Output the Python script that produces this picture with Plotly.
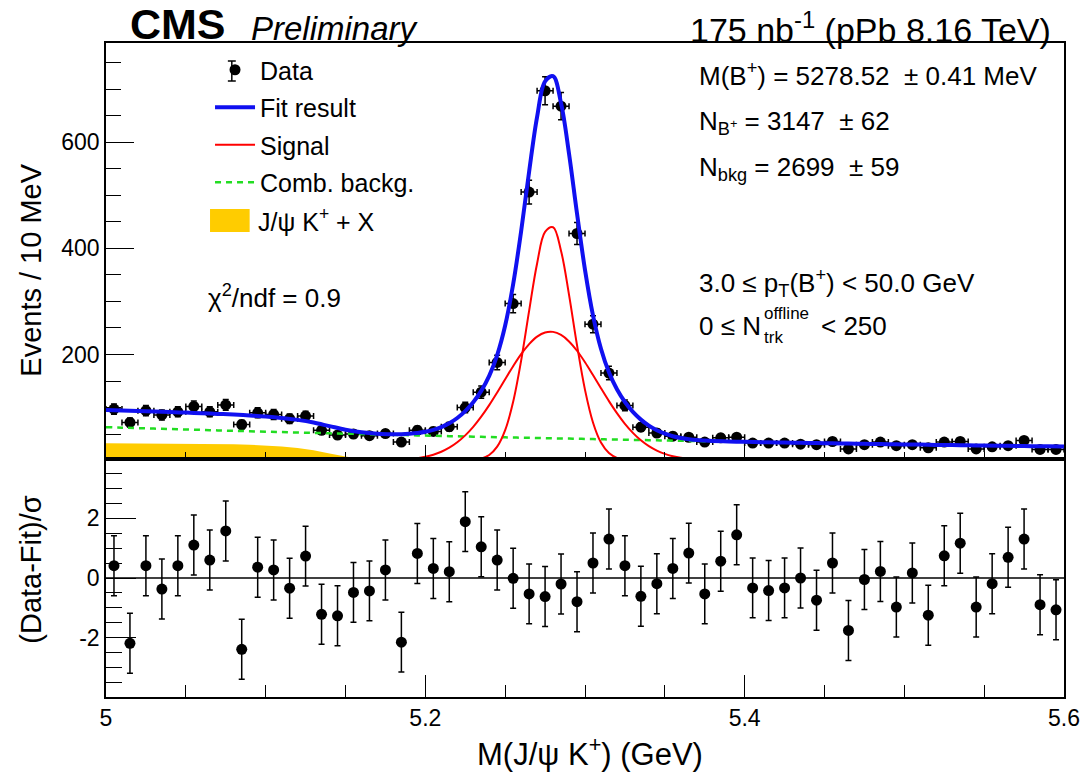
import numpy as np
import plotly.graph_objects as go

# ---------------- data ----------------
bin_centers = [5.005, 5.015, 5.025, 5.035, 5.045, 5.055, 5.065, 5.075, 5.085, 5.095,
               5.105, 5.115, 5.125, 5.135, 5.145, 5.155, 5.165, 5.175, 5.185, 5.195,
               5.205, 5.215, 5.225, 5.235, 5.245, 5.255, 5.265, 5.275, 5.285, 5.295,
               5.305, 5.315, 5.325, 5.335, 5.345, 5.355, 5.365, 5.375, 5.385, 5.395,
               5.405, 5.415, 5.425, 5.435, 5.445, 5.455, 5.465, 5.475, 5.485, 5.495,
               5.505, 5.515, 5.525, 5.535, 5.545, 5.555, 5.565, 5.575, 5.585, 5.595]

counts = [97, 72, 94, 86, 92, 102, 92, 105, 68, 90,
          87, 79, 84, 57, 48, 50, 47, 51, 35, 57,
          55, 64, 100, 129, 185, 296, 506, 697, 668, 428,
          257, 165, 104, 63, 52, 46, 44, 35, 43, 44,
          33, 33, 33, 31, 30, 36, 22, 30, 35, 28,
          30, 24, 35, 36, 22, 26, 28, 38, 21, 21]

pulls = [0.41, -2.18, 0.41, -0.37, 0.41, 1.10, 0.60, 1.57, -2.38, 0.36,
         0.27, -0.34, 0.73, -1.21, -1.26, -0.48, -0.43, 0.27, -2.14, 0.82,
         0.32, 0.21, 1.88, 1.04, 0.60, -0.01, -0.53, -0.62, -0.20, -0.79,
         0.50, 1.30, 0.41, -0.61, -0.19, 0.32, 0.83, -0.53, 0.56, 1.44,
         -0.33, -0.42, -0.33, 0.00, -0.74, 0.50, -1.75, -0.05, 0.22, -0.97,
         0.17, -1.24, 0.74, 1.16, -0.97, -0.19, 0.69, 1.30, -0.89, -1.06]

# curve sampling points (GeV)
curve_x = [5.00, 5.01, 5.02, 5.03, 5.04, 5.05, 5.06, 5.07, 5.08, 5.09,
           5.10, 5.11, 5.12, 5.13, 5.14, 5.15, 5.16, 5.17, 5.18,
           5.185, 5.19, 5.195, 5.20, 5.205, 5.21, 5.215, 5.22, 5.225, 5.23,
           5.235, 5.24, 5.245, 5.25, 5.255, 5.26, 5.265, 5.27, 5.275, 5.28,
           5.285, 5.29, 5.295, 5.30, 5.305, 5.31, 5.315, 5.32, 5.325, 5.33,
           5.335, 5.34, 5.345, 5.35, 5.355, 5.36, 5.365, 5.37, 5.375, 5.38,
           5.39, 5.40, 5.41, 5.42, 5.43, 5.44, 5.45, 5.46, 5.47, 5.48,
           5.49, 5.50, 5.51, 5.52, 5.53, 5.54, 5.55, 5.56, 5.57, 5.58,
           5.59, 5.60]

comb_bkg = [63.0, 62.1, 61.2, 60.3, 59.5, 58.6, 57.8, 56.9, 56.1, 55.3,
            54.5, 53.7, 52.9, 52.2, 51.4, 50.7, 50.0, 49.2, 48.5,
            48.2, 47.8, 47.5, 47.1, 46.8, 46.5, 46.1, 45.8, 45.5, 45.1,
            44.8, 44.5, 44.2, 43.8, 43.5, 43.2, 42.9, 42.6, 42.3, 42.0,
            41.7, 41.4, 41.1, 40.8, 40.5, 40.2, 39.9, 39.6, 39.3, 39.0,
            38.8, 38.5, 38.2, 37.9, 37.6, 37.4, 37.1, 36.8, 36.6, 36.3,
            35.8, 35.3, 34.8, 34.3, 33.8, 33.3, 32.8, 32.3, 31.9, 31.4,
            31.0, 30.5, 30.1, 29.6, 29.2, 28.8, 28.4, 28.0, 27.6, 27.2,
            26.8, 26.4]

jpsik_x = [32.5, 32.4, 32.3, 32.2, 32.0, 31.8, 31.5, 31.1, 30.6, 29.8,
           28.6, 26.7, 23.8, 19.5, 13.5, 7.5, 3.2, 1.0, 0.2,
           0, 0, 0, 0, 0, 0, 0, 0, 0, 0,
           0, 0, 0, 0, 0, 0, 0, 0, 0, 0,
           0, 0, 0, 0, 0, 0, 0, 0, 0, 0,
           0, 0, 0, 0, 0, 0, 0, 0, 0, 0,
           0, 0, 0, 0, 0, 0, 0, 0, 0, 0,
           0, 0, 0, 0, 0, 0, 0, 0, 0, 0,
           0, 0]

signal_wide = [0, 0, 0, 0, 0, 0, 0, 0, 0, 0,
               0, 0, 0, 0, 0, 0, 0.1, 0.3, 0.9,
               1.6, 2.8, 4.5, 7.2, 11.1, 16.7, 24.3, 34.5, 47.5, 63.6,
               82.8, 104.6, 128.5, 153.4, 177.9, 200.5, 219.5, 233.6, 241.5, 242.6,
               236.8, 224.6, 207.0, 185.4, 161.3, 136.4, 112.1, 89.5, 69.4, 52.3,
               38.3, 27.3, 18.9, 12.7, 8.3, 5.2, 3.2, 1.9, 1.1, 0.6,
               0.2, 0, 0, 0, 0, 0, 0, 0, 0, 0,
               0, 0, 0, 0, 0, 0, 0, 0, 0, 0,
               0, 0]

signal_narrow = [0, 0, 0, 0, 0, 0, 0, 0, 0, 0,
                 0, 0, 0, 0, 0, 0, 0, 0, 0,
                 0, 0, 0, 0, 0, 0, 0, 0, 0.3, 1.2,
                 3.7, 10.5, 26.2, 57.4, 110.9, 188.5, 282.1, 371.6, 430.9, 439.8,
                 395.1, 312.4, 217.5, 133.3, 71.9, 34.1, 14.3, 5.2, 1.7, 0.5,
                 0.1, 0, 0, 0, 0, 0, 0, 0, 0, 0,
                 0, 0, 0, 0, 0, 0, 0, 0, 0, 0,
                 0, 0, 0, 0, 0, 0, 0, 0, 0, 0,
                 0, 0]

x_tick_labels = ["5", "5.2", "5.4", "5.6"]
pull_tick_vals = [-2, 0, 2]
pull_tick_text = ["-2", "0", "2"]

# ---------------- derived ----------------
count_err = np.sqrt(np.array(counts, dtype=float))
fit_total = (np.array(comb_bkg) + np.array(jpsik_x)
             + np.array(signal_wide) + np.array(signal_narrow))
jpsik_poly_x = list(curve_x) + list(curve_x[::-1])
jpsik_poly_y = list(jpsik_x) + [0.0] * len(curve_x)

FONT = "Liberation Sans, Arial, Helvetica, sans-serif"
BLUE = "#1010f0"
RED = "#ff0000"
GREEN = "#22dd22"
YELLOW = "#ffcc00"

W, H = 1092, 774
ML, MR, MT, MB = 106, 19, 43, 77
PW, PH = W - ML - MR, H - MT - MB


def px(xp):
    return (xp - ML) / PW


def py(yp):
    return 1 - (yp - MT) / PH


split = (H - MB - 459) / PH

fig = go.Figure()

# data points (upper)
fig.add_trace(go.Scatter(
    x=bin_centers, y=counts, mode="markers", name="Data",
    marker=dict(color="black", size=11),
    error_y=dict(type="data", array=count_err, color="black", thickness=1.5, width=3),
    error_x=dict(type="constant", value=0.005, color="black", thickness=1.5, width=3),
    xaxis="x", yaxis="y", legendrank=1, legendgroup="a"))

# J/psi K + X (legend entry drawn separately as a box)
fig.add_trace(go.Scatter(
    x=jpsik_poly_x, y=jpsik_poly_y, mode="lines", name="J/\u03c8 K<sup>+</sup> + X",
    line=dict(color=YELLOW, width=0), fill="toself", showlegend=False,
    fillcolor=YELLOW, xaxis="x", yaxis="y"))

# combinatorial background
fig.add_trace(go.Scatter(
    x=curve_x, y=comb_bkg, mode="lines", name="Comb. backg.",
    line=dict(color=GREEN, width=2.5, dash="6px,5px", shape="spline"),
    xaxis="x", yaxis="y", legendrank=4, legendgroup="d"))

# signal components
fig.add_trace(go.Scatter(
    x=curve_x, y=signal_wide, mode="lines", name="Signal", showlegend=False,
    line=dict(color=RED, width=2, shape="spline"),
    xaxis="x", yaxis="y", legendgroup="c"))
fig.add_trace(go.Scatter(
    x=curve_x, y=signal_narrow, mode="lines", name="Signal",
    line=dict(color=RED, width=2, shape="spline"),
    xaxis="x", yaxis="y", legendrank=3, legendgroup="c"))

# total fit
fig.add_trace(go.Scatter(
    x=curve_x, y=fit_total, mode="lines", name="Fit result",
    line=dict(color=BLUE, width=4, shape="spline"),
    xaxis="x", yaxis="y", legendrank=2, legendgroup="b"))

# pulls (lower)
fig.add_trace(go.Scatter(
    x=bin_centers, y=pulls, mode="markers", showlegend=False,
    marker=dict(color="black", size=11),
    error_y=dict(type="constant", value=1.0, color="black", thickness=1.5, width=3),
    xaxis="x2", yaxis="y2"))

axis_common = dict(showline=True, linecolor="black", linewidth=1.5, mirror=True,
                   ticks="inside", tickcolor="black", showgrid=False, zeroline=False,
                   tickfont=dict(family=FONT, size=23, color="black"))

fig.update_layout(
    width=W, height=H,
    margin=dict(l=ML, r=MR, t=MT, b=MB),
    paper_bgcolor="white", plot_bgcolor="white",
    font=dict(family=FONT, color="black"),
    xaxis=dict(domain=[0, 1], anchor="y", range=[5.0, 5.6], matches="x2",
               showticklabels=False, tick0=5.0, dtick=0.2, ticklen=14, tickwidth=1.2,
               minor=dict(dtick=0.05, tick0=5.0, ticklen=7, ticks="inside",
                          tickcolor="black", tickwidth=1.2),
               **axis_common),
    yaxis=dict(domain=[split, 1], anchor="x", range=[3, 787], tick0=0, dtick=200,
               ticklen=28, tickwidth=1.2,
               minor=dict(dtick=50, tick0=0, ticklen=15, ticks="inside",
                          tickcolor="black", tickwidth=1.2),
               **axis_common),
    xaxis2=dict(domain=[0, 1], anchor="y2", range=[5.0, 5.6],
                tickvals=[5.0, 5.2, 5.4, 5.6], ticktext=x_tick_labels,
                ticklen=22, tickwidth=1.2,
                minor=dict(dtick=0.05, tick0=5.0, ticklen=12, ticks="inside",
                           tickcolor="black", tickwidth=1.2),
                **axis_common),
    yaxis2=dict(domain=[0, split], anchor="x2", range=[-3.97, 3.97],
                tickvals=pull_tick_vals, ticktext=pull_tick_text,
                ticklen=30, tickwidth=1.2,
                minor=dict(tickvals=[-3.5, -3, -2.5, -1.5, -1, -0.5, 0.5, 1, 1.5, 2.5, 3, 3.5],
                           ticklen=16, ticks="inside", tickcolor="black", tickwidth=1.2),
                **axis_common),
    showlegend=True,
    legend=dict(x=px(211), y=py(47), xanchor="left", yanchor="top",
                bgcolor="rgba(0,0,0,0)", borderwidth=0,
                font=dict(family=FONT, size=25, color="black"),
                traceorder="grouped", tracegroupgap=2, itemwidth=40),
)

# zero line in pull panel
fig.add_shape(type="line", xref="x2", yref="y2", x0=5.0, x1=5.6, y0=0, y1=0,
              line=dict(color="black", width=1.5))

# legend box for the J/psi K + X component
fig.add_shape(type="rect", xref="paper", yref="paper",
              x0=px(211), x1=px(251), y0=py(232), y1=py(209),
              fillcolor=YELLOW, line=dict(width=0))

# error-bar glyph for the "Data" legend entry
for (ax0, ay0, ax1, ay1) in [(233, 61, 233, 81), (229, 61, 237, 61), (229, 81, 237, 81)]:
    fig.add_shape(type="line", xref="paper", yref="paper",
                  x0=px(ax0), y0=py(ay0), x1=px(ax1), y1=py(ay1),
                  line=dict(color="black", width=1.5))

ann = []


def add_text(text, xp, yp, size, xanchor="left", yanchor="middle", angle=0):
    ann.append(dict(text=text, x=px(xp), y=py(yp), xref="paper", yref="paper",
                    xanchor=xanchor, yanchor=yanchor, showarrow=False,
                    textangle=angle,
                    font=dict(family=FONT, size=size, color="black")))


add_text("<b>CMS</b>", 128, 24, 43)
add_text("<i>Preliminary</i>", 250, 29, 33)
add_text("175 nb<sup>-1</sup> (pPb 8.16 TeV)", 1062, 27, 34, xanchor="right")

add_text("J/\u03c8 K<sup>+</sup> + X", 257, 220, 25)

add_text("M(B<sup>+</sup>) = 5278.52 \u00a0\u00b1 0.41 MeV", 703, 74, 26)
add_text("N<sub>B<sup>+</sup></sub> = 3147 \u00a0\u00b1 62", 703, 123, 26)
add_text("N<sub>bkg</sub> = 2699 \u00a0\u00b1 59", 703, 168, 26)
add_text("3.0 \u2264 p<sub>T</sub>(B<sup>+</sup>) < 50.0 GeV", 703, 283, 26)
add_text("0 \u2264 N", 703, 326, 26)
add_text("offline", 768, 314, 17)
add_text("trk", 768, 338, 17)
add_text("< 250", 826, 326, 26)
add_text("\u03c7<sup>2</sup>/ndf = 0.9", 207, 296, 26)

add_text("Events / 10 MeV", 30, 270, 29, xanchor="center", angle=-90)
add_text("(Data-Fit)/\u03c3", 30, 569, 29, xanchor="center", angle=-90)
add_text("M(J/\u03c8 K<sup>+</sup>) (GeV)", 595, 752, 31, xanchor="center")

fig.update_layout(annotations=ann)

fig.write_html("out.html")
